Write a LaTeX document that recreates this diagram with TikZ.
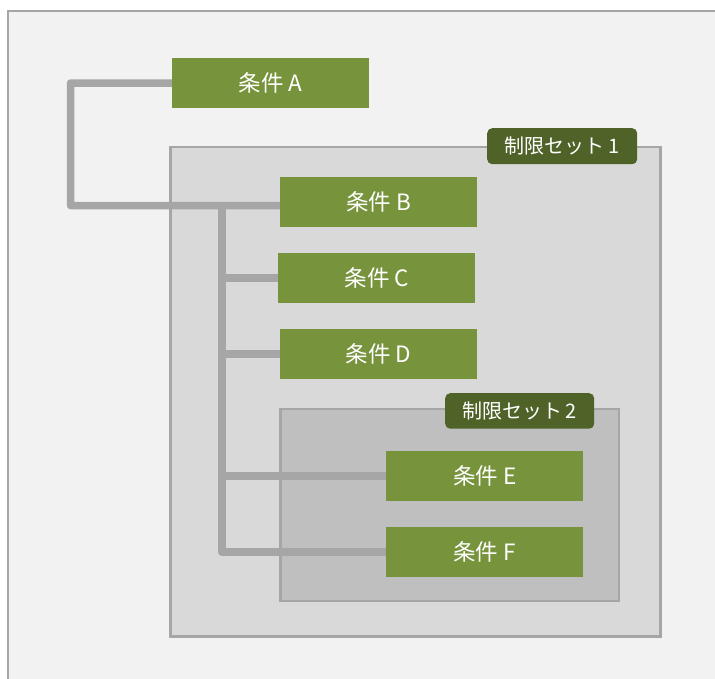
\documentclass[tikz,border=0pt]{standalone}
\usepackage{fontspec}
\setmainfont{Noto Sans CJK JP}
\usetikzlibrary{backgrounds}
\definecolor{bgc}{HTML}{F2F2F2}
\definecolor{frm}{HTML}{A6A6A6}
\definecolor{setone}{HTML}{D9D9D9}
\definecolor{settwo}{HTML}{BFBFBF}
\definecolor{cond}{HTML}{77933C}
\definecolor{tagc}{HTML}{4F6228}
\pgfdeclarelayer{links}
\pgfsetlayers{background,links,main}
\tikzset{
  condbox/.style={fill=cond, text=white, minimum width=197pt, minimum height=50pt, inner sep=0pt, font=\fontsize{22.5}{26}\selectfont, anchor=north west},
  tagbox/.style={fill=tagc, text=white, rounded corners=5pt, inner sep=0pt, font=\fontsize{20}{24}\selectfont, anchor=north west},
  setbox/.style={draw=frm, line width=2.5pt},
  link/.style={draw=frm, line width=7.5pt, line join=round}
}
\begin{document}
\begin{tikzpicture}[x=1pt,y=-1pt]
\useasboundingbox (0,0) rectangle (715,678);
\clip (0,0) rectangle (715,678);
% nodes
\node[condbox] (A) at (172,58) {条件 A};
\node[condbox] (B) at (280,177) {条件 B};
\node[condbox] (C) at (278,253) {条件 C};
\node[condbox] (D) at (280,329) {条件 D};
\node[condbox] (E) at (386,451) {条件 E};
\node[condbox] (F) at (386,527) {条件 F};
\node[tagbox, minimum width=150pt, minimum height=36pt] (T1) at (487,128) {制限セット\,1};
\node[tagbox, minimum width=149pt, minimum height=35.5pt] (T2) at (445,393) {制限セット\,2};
% backgrounds and sets
\begin{pgfonlayer}{background}
\fill[white] (0,0) rectangle (715,678);
\filldraw[fill=bgc, draw=frm, line width=2pt] (8,10.5) rectangle (760,720);
\filldraw[setbox, fill=setone] (170.5,147) rectangle (660.5,636.5);
\filldraw[setbox, fill=settwo] (280.5,409) rectangle (619,601);
\end{pgfonlayer}
% connectors
\begin{pgfonlayer}{links}
\coordinate (c1) at (70.5,83);
\coordinate (c2) at (70.5,205.5);
\coordinate (t0) at (222,205.5);
\coordinate (tF) at (222,552);
\draw[link] (A.west) -- (c1) -- (c2) -- (c2 -| B.west);
\draw[link] (t0) -- (tF) -- (tF -| F.west);
\draw[link] (C.west -| t0) -- (C.west);
\draw[link] (D.west -| t0) -- (D.west);
\draw[link] (E.west -| t0) -- (E.west);
\end{pgfonlayer}
\end{tikzpicture}
\end{document}
